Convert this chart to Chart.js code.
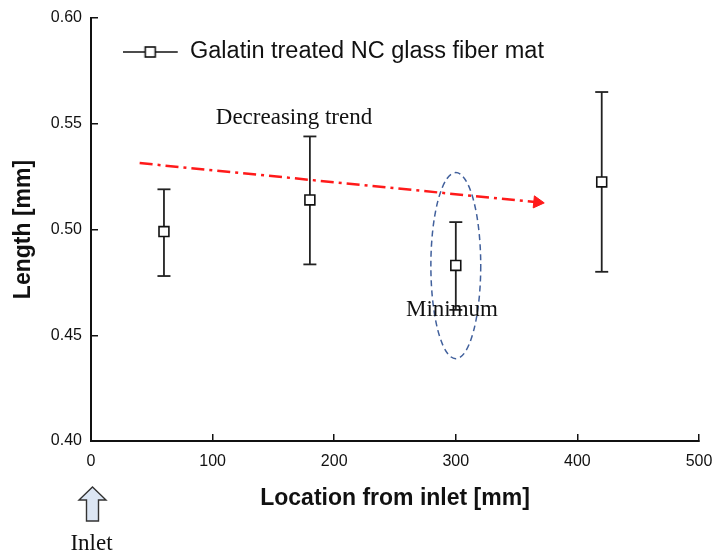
<!DOCTYPE html>
<html>
<head>
<meta charset="utf-8">
<script src="https://cdn.jsdelivr.net/npm/chart.js@4.4.1/dist/chart.umd.min.js"></script>
<style>
  html, body { margin: 0; padding: 0; background: #fff; }
</style>
</head>
<body>
<canvas id="chart" width="714" height="557"></canvas>
<script>
// values
const locations = [60, 180, 300, 420];
const meanLength = [0.499, 0.514, 0.483, 0.5225];
const lowerBar = [0.478, 0.4835, 0.462, 0.480];
const upperBar = [0.519, 0.544, 0.5035, 0.565];
const trendX = [40, 367];
const trendY = [0.5314, 0.5129];
const xTicks = [0, 100, 200, 300, 400, 500];
const yTicks = [0.40, 0.45, 0.50, 0.55, 0.60];

const ink = "#111";

// legend symbol: line with an open square
const legendMark = document.createElement("canvas");
legendMark.width = 64;
legendMark.height = 14;
(function () {
  const c = legendMark.getContext("2d");
  c.strokeStyle = ink;
  c.lineWidth = 1.6;
  c.beginPath();
  c.moveTo(0, 7);
  c.lineTo(55, 7);
  c.stroke();
  c.fillStyle = "#fff";
  c.fillRect(22.5, 2, 10, 10);
  c.strokeRect(22.5, 2, 10, 10);
})();

const errorSets = locations.map(function (loc, i) {
  return {
    data: [
      { x: loc, y: lowerBar[i] },
      { x: loc, y: upperBar[i] },
    ],
    showLine: true,
    borderColor: "#222",
    borderWidth: 1.8,
    pointStyle: "line",
    pointRadius: 6.5,
    pointBorderColor: "#222",
    pointBorderWidth: 1.8,
  };
});

const notes = {
  id: "notes",
  afterDatasetsDraw(chart) {
    const ctx = chart.ctx;
    const x = chart.scales.x;
    const y = chart.scales.y;
    ctx.save();

    // dashed ellipse round the minimum
    const cx = x.getPixelForValue(300);
    const cy = y.getPixelForValue(0.4829);
    const rx = x.getPixelForValue(320.5) - cx;
    const ry = cy - y.getPixelForValue(0.5269);
    ctx.strokeStyle = "#41609c";
    ctx.lineWidth = 1.5;
    ctx.setLineDash([6, 4]);
    ctx.beginPath();
    ctx.ellipse(cx, cy, rx, ry, 0, 0, Math.PI * 2);
    ctx.stroke();
    ctx.setLineDash([]);

    ctx.font = '23px "Liberation Serif"';
    ctx.fillStyle = ink;
    ctx.textAlign = "center";
    ctx.textBaseline = "alphabetic";
    ctx.fillText("Decreasing trend", 294, 124);
    ctx.fillText("Minimum", 452, 316);

    // inlet arrow under x = 0
    const ax = x.getPixelForValue(0) + 1.5;
    const base = x.bottom - 116 + 46;
    ctx.beginPath();
    ctx.moveTo(ax, base);
    ctx.lineTo(ax + 13.5, base + 13);
    ctx.lineTo(ax + 6, base + 13);
    ctx.lineTo(ax + 6, base + 34);
    ctx.lineTo(ax - 6, base + 34);
    ctx.lineTo(ax - 6, base + 13);
    ctx.lineTo(ax - 13.5, base + 13);
    ctx.closePath();
    ctx.fillStyle = "#dce6f4";
    ctx.fill();
    ctx.strokeStyle = "#333";
    ctx.lineWidth = 1.4;
    ctx.stroke();

    ctx.fillStyle = ink;
    ctx.fillText("Inlet", ax - 1, 550);
    ctx.restore();
  },
};

new Chart(document.getElementById("chart"), {
  type: "scatter",
  data: {
    datasets: [
      {
        label: "Galatin treated NC glass fiber mat",
        data: locations.map(function (loc, i) {
          return { x: loc, y: meanLength[i] };
        }),
        showLine: false,
        pointStyle: "rect",
        pointRadius: 7,
        pointBackgroundColor: "#fff",
        pointBorderColor: ink,
        pointBorderWidth: 1.6,
      },
      {
        label: "trend",
        data: trendX.map(function (v, i) {
          return { x: v, y: trendY[i] };
        }),
        showLine: true,
        borderColor: "#ff1a1a",
        borderWidth: 2.5,
        borderDash: [13, 5, 3, 5],
        pointStyle: "triangle",
        pointRadius: [0, 7],
        pointRotation: 95.6,
        pointBackgroundColor: "#ff1a1a",
        pointBorderColor: "#ff1a1a",
        pointBorderWidth: 1,
      },
    ].concat(errorSets),
  },
  options: {
    responsive: false,
    animation: false,
    events: [],
    layout: { padding: { top: 18, right: 15, left: 0, bottom: 0 } },
    plugins: {
      tooltip: { enabled: false },
      legend: {
        position: "chartArea",
        align: "start",
        labels: {
          filter: function (item) {
            return item.datasetIndex === 0;
          },
          usePointStyle: true,
          pointStyle: legendMark,
          pointStyleWidth: 47,
          padding: 40.25,
          color: ink,
          font: { family: "Liberation Sans", size: 23.5 },
        },
      },
    },
    scales: {
      x: {
        type: "linear",
        position: "bottom",
        min: 0,
        max: 500,
        afterBuildTicks: function (s) {
          s.ticks = xTicks.map(function (v) {
            return { value: v };
          });
        },
        afterFit: function (s) {
          s.height = 116;
          s.paddingLeft = 0;
          s.paddingRight = 0;
        },
        ticks: {
          color: ink,
          padding: 18,
          maxRotation: 0,
          font: { family: "Liberation Sans", size: 16 },
        },
        grid: {
          drawOnChartArea: false,
          drawTicks: true,
          tickLength: -7,
          color: ink,
          lineWidth: 1.5,
        },
        border: { color: ink, width: 2 },
        title: {
          display: true,
          text: "Location from inlet [mm]",
          color: ink,
          font: { family: "Liberation Sans", size: 23, weight: "bold" },
          padding: { top: 0, bottom: 45 },
        },
      },
      y: {
        min: 0.4,
        max: 0.6,
        afterBuildTicks: function (s) {
          s.ticks = yTicks.map(function (v) {
            return { value: v };
          });
        },
        afterFit: function (s) {
          s.width = 91;
          s.paddingTop = 0;
          s.paddingBottom = 0;
        },
        ticks: {
          color: ink,
          padding: 16,
          font: { family: "Liberation Sans", size: 16 },
          callback: function (v) {
            return Number(v).toFixed(2);
          },
        },
        grid: {
          drawOnChartArea: false,
          drawTicks: true,
          tickLength: -7,
          color: ink,
          lineWidth: 1.5,
        },
        border: { color: ink, width: 2 },
        title: {
          display: true,
          text: "Length [mm]",
          color: ink,
          font: { family: "Liberation Sans", size: 23, weight: "bold" },
          padding: { top: 10, bottom: 0 },
        },
      },
    },
  },
  plugins: [notes],
});
</script>
</body>
</html>
